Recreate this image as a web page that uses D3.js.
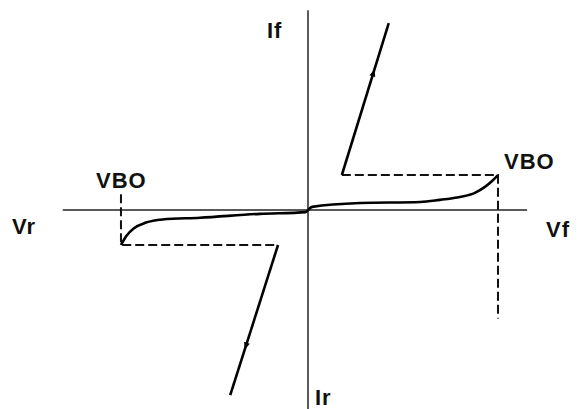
<!DOCTYPE html>
<html>
<head>
<meta charset="utf-8">
<script src="https://cdn.jsdelivr.net/npm/d3@7"></script>
<style>
  body { margin: 0; background: #fff; }
  text { font-family: "Liberation Sans", Arial, sans-serif; font-weight: bold; }
</style>
</head>
<body>
<div id="container"></div>
<script>
let w = 579;
let h = 409;

// data: volts (x) and current (y, relative units)
let vbo = [-31.5, 32];
let forwardV = [0, 0.7, 8.8, 18.9, 22.2, 25.6, 28.1, 29.8, 31.0, 32];
let forwardI = [0, 0.09, 0.2, 0.23, 0.29, 0.37, 0.49, 0.66, 0.83, 1.0];
let reverseV = [0, -0.4, -8.1, -18.2, -24.5, -27.3, -29.3, -30.6, -31.5];
let reverseI = [0, -0.06, -0.11, -0.22, -0.27, -0.36, -0.52, -0.74, -1.0];
let fwdJumpV = [5.7, 13.6];
let fwdJumpI = [1.0, 5.34];
let revJumpV = [-5.05, -13.1];
let revJumpI = [-1.0, -5.29];
let axisV = [-41.3, 36.9];
let axisI = [-5.72, 5.71];
let labels = ["If", "Ir", "Vr", "Vf", "VBO"];

let viz = d3.select("#container").append("svg")
    .attr("width", w)
    .attr("height", h)
    .style("background-color", "white");

let xScale = d3.scaleLinear().domain([-32, 32]).range([118, 498]);
let yScale = d3.scaleLinear().domain([-6, 6]).range([420, 0]);

let line = d3.line().x(d => xScale(d[0])).y(d => yScale(d[1]));
let curve = d3.line().x(d => xScale(d[0])).y(d => yScale(d[1])).curve(d3.curveMonotoneX);

// axes
viz.append("line")
    .attr("x1", xScale(axisV[0])).attr("x2", xScale(axisV[1]))
    .attr("y1", yScale(0)).attr("y2", yScale(0))
    .attr("stroke", "#5a5a5a").attr("stroke-width", 2);
viz.append("line")
    .attr("x1", xScale(0)).attr("x2", xScale(0))
    .attr("y1", yScale(axisI[1])).attr("y2", yScale(axisI[0]))
    .attr("stroke", "#5a5a5a").attr("stroke-width", 2);

// dashed guides
let dashes = [
  [[fwdJumpV[0], fwdJumpI[0]], [vbo[1], 1.0], [vbo[1], -3.1]],
  [[vbo[0], 0.45], [vbo[0], -1.0], [revJumpV[0], revJumpI[0]]]
];
viz.selectAll(".dash").data(dashes).enter()
  .append("path")
    .attr("class", "dash")
    .attr("d", d => line(d))
    .attr("fill", "none")
    .attr("stroke", "#111")
    .attr("stroke-width", 2)
    .attr("stroke-dasharray", "9,4");

// characteristic curves
let fwd = forwardV.map((v, i) => [v, forwardI[i]]);
let rev = reverseV.map((v, i) => [v, reverseI[i]]).reverse();
[fwd, rev].forEach(pts => {
  viz.append("path")
    .attr("d", curve(pts))
    .attr("fill", "none")
    .attr("stroke", "#000")
    .attr("stroke-width", 2.6);
});

// breakdown (negative resistance) lines with arrow marks
let jumps = [
  fwdJumpV.map((v, i) => [v, fwdJumpI[i]]),
  revJumpV.map((v, i) => [v, revJumpI[i]])
];
jumps.forEach(pts => {
  viz.append("path")
    .attr("d", line(pts))
    .attr("fill", "none")
    .attr("stroke", "#000")
    .attr("stroke-width", 2.6);
  let x0 = xScale(pts[0][0]), y0 = yScale(pts[0][1]);
  let x1 = xScale(pts[1][0]), y1 = yScale(pts[1][1]);
  let t = 0.67;
  let mx = x0 + (x1 - x0) * t, my = y0 + (y1 - y0) * t;
  let ang = Math.atan2(y1 - y0, x1 - x0) * 180 / Math.PI;
  viz.append("path")
    .attr("d", "M4,0 L-3,-3 L-3,3 Z")
    .attr("transform", "translate(" + mx + "," + my + ") rotate(" + ang + ")")
    .attr("fill", "#000");
});

// labels
let labelPos = [
  { t: labels[0], x: 267, y: 38 },
  { t: labels[1], x: 315, y: 405 },
  { t: labels[2], x: 12, y: 234 },
  { t: labels[3], x: 546, y: 237 },
  { t: labels[4], x: 96, y: 188 },
  { t: labels[4], x: 504, y: 169 }
];
viz.selectAll(".lbl").data(labelPos).enter()
  .append("text")
    .attr("class", "lbl")
    .attr("x", d => d.x)
    .attr("y", d => d.y)
    .attr("font-size", 22)
    .attr("letter-spacing", 1)
    .attr("fill", "#111")
    .text(d => d.t);
</script>
</body>
</html>
